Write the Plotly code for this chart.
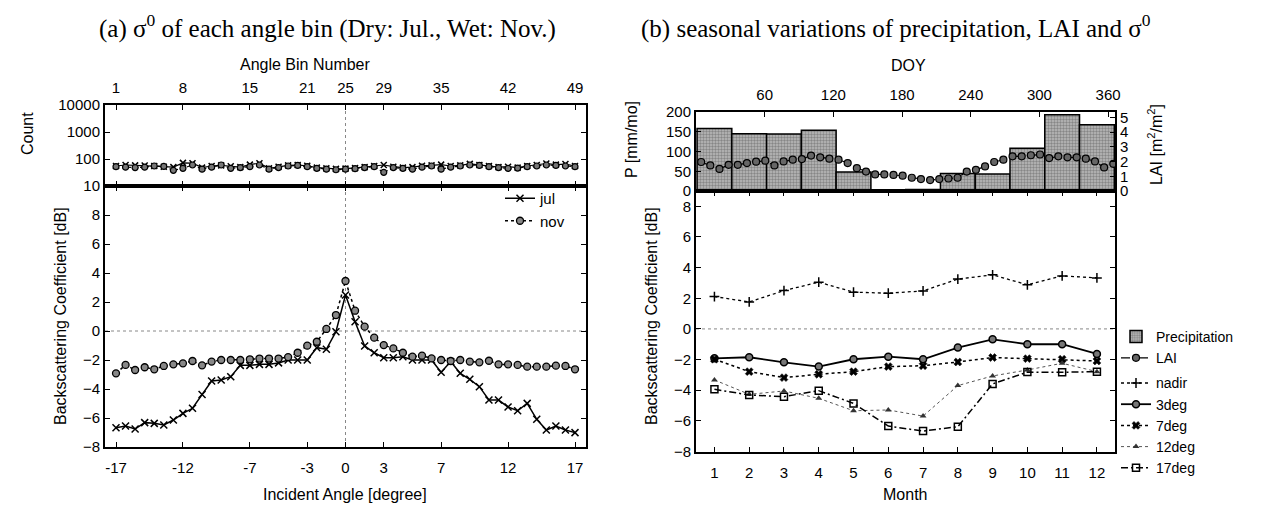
import plotly.graph_objects as go

# ---------------- data: panel (a) ----------------
bins = list(range(1, 50))
bin_tick_vals = [1, 8, 15, 21, 25, 29, 35, 42, 49]
bin_tick_text = ["1", "8", "15", "21", "25", "29", "35", "42", "49"]
angle_tick_text = ["-17", "-12", "-7", "-3", "0", "3", "7", "12", "17"]

jul_sigma = [-6.67, -6.55, -6.76, -6.32, -6.37, -6.48, -6.14, -5.68, -5.33, -4.38,
             -3.45, -3.38, -3.15, -2.37, -2.37, -2.30, -2.30, -2.20, -2.00, -2.00,
             -2.00, -1.15, -1.26, -0.05, 2.48, 0.64, -1.03, -1.50, -1.84, -1.84,
             -1.77, -2.00, -2.00, -2.00, -2.85, -2.11, -2.92, -3.33, -3.84, -4.76,
             -4.76, -5.24, -5.50, -4.99, -6.09, -6.83, -6.55, -6.83, -7.01]
nov_sigma = [-2.92, -2.34, -2.69, -2.50, -2.64, -2.41, -2.30, -2.23, -2.07, -2.37,
             -2.11, -2.00, -2.00, -2.00, -1.95, -1.90, -1.90, -1.90, -1.80, -1.50,
             -1.01, -0.74, 0.14, 1.10, 3.45, 1.40, 0.30, -0.46, -0.97, -1.20,
             -1.50, -1.77, -1.70, -1.89, -2.00, -2.07, -2.00, -2.11, -2.16, -2.05,
             -2.30, -2.30, -2.34, -2.46, -2.46, -2.46, -2.39, -2.41, -2.64]
jul_count = [55, 60, 58, 57, 55, 52, 50, 72, 70, 48, 55, 58, 54, 50, 62, 70, 45, 52,
             58, 60, 56, 48, 45, 43, 44, 46, 50, 55, 60, 52, 48, 50, 56, 58, 62, 55,
             58, 66, 60, 55, 50, 52, 48, 55, 60, 68, 62, 65, 55]
nov_count = [52, 50, 48, 50, 55, 53, 38, 45, 60, 42, 50, 60, 45, 48, 52, 60, 42, 48,
             55, 58, 52, 45, 42, 40, 42, 44, 48, 52, 32, 48, 45, 42, 50, 55, 42, 50,
             55, 60, 58, 52, 48, 45, 46, 52, 55, 60, 58, 55, 52]

# ---------------- data: panel (b) ----------------
months = list(range(1, 13))
precip = [158, 145, 144, 154, 48, 3, 4, 44, 43, 108, 193, 168]
lai_doy = [4.5, 12.5, 20.5, 28.5, 36.5, 44.5, 52.5, 60.5, 68.5, 76.5, 84.5, 92.5,
           100.5, 108.5, 116.5, 124.5, 132.5, 140.5, 148.5, 156.5, 164.5, 172.5,
           180.5, 188.5, 196.5, 204.5, 212.5, 220.5, 228.5, 236.5, 244.5, 252.5,
           260.5, 268.5, 276.5, 284.5, 292.5, 300.5, 308.5, 316.5, 324.5, 332.5,
           340.5, 348.5, 356.5, 364.5]
lai = [1.97, 1.74, 1.50, 1.78, 1.78, 1.90, 1.99, 2.06, 1.74, 2.01, 2.13, 2.17,
       2.41, 2.29, 2.20, 2.13, 1.90, 1.55, 1.32, 1.13, 1.13, 1.09, 1.04, 0.90,
       0.81, 0.74, 0.81, 0.85, 0.90, 1.32, 1.44, 1.67, 1.97, 2.13, 2.36, 2.36,
       2.43, 2.48, 2.24, 2.36, 2.29, 2.29, 2.20, 2.01, 1.60, 1.85]
doy_ticks = [60, 120, 180, 240, 300, 360]
nadir = [2.11, 1.76, 2.50, 3.05, 2.40, 2.33, 2.48, 3.25, 3.53, 2.88, 3.46, 3.33]
deg3 = [-1.92, -1.85, -2.18, -2.46, -1.98, -1.81, -1.98, -1.22, -0.68, -1.00, -1.00, -1.63]
deg7 = [-1.98, -2.79, -3.18, -2.96, -2.79, -2.46, -2.40, -2.16, -1.87, -1.94, -1.98, -2.09]
deg12 = [-3.33, -4.27, -4.05, -4.53, -5.34, -5.29, -5.69, -3.70, -3.07, -2.68, -2.24, -2.79]
deg17 = [-3.94, -4.31, -4.42, -4.03, -4.86, -6.34, -6.67, -6.38, -3.59, -2.82, -2.83, -2.79]

SANS = "Liberation Sans, Arial, sans-serif"
SERIF = "Liberation Serif, Times New Roman, serif"
W, H = 1280, 510


def px(x):
    return x / W


def py(y):
    return 1 - y / H


fig = go.Figure()

# ---- panel (a) counts ----
fig.add_trace(go.Scatter(x=bins, y=jul_count, xaxis="x", yaxis="y", mode="lines+markers",
                         line=dict(color="black", width=1.2),
                         marker=dict(symbol="x-thin", size=6, line=dict(color="black", width=1.5)),
                         showlegend=False))
fig.add_trace(go.Scatter(x=bins, y=nov_count, xaxis="x", yaxis="y", mode="lines+markers",
                         line=dict(color="black", width=1.2, dash="dot"),
                         marker=dict(symbol="circle", size=6, color="#777", line=dict(color="black", width=1.2)),
                         showlegend=False))

# ---- panel (a) sigma0 ----
fig.add_trace(go.Scatter(x=bins, y=jul_sigma, xaxis="x2", yaxis="y2", mode="lines+markers", name="jul",
                         line=dict(color="black", width=1.5),
                         marker=dict(symbol="x-thin", size=7, line=dict(color="black", width=1.5)),
                         legend="legend"))
fig.add_trace(go.Scatter(x=bins, y=nov_sigma, xaxis="x2", yaxis="y2", mode="lines+markers", name="nov",
                         line=dict(color="black", width=1.5, dash="dot"),
                         marker=dict(symbol="circle", size=7, color="#888", line=dict(color="black", width=1.3)),
                         legend="legend"))

# ---- panel (b) precipitation & LAI ----
fig.add_trace(go.Bar(x=months, y=precip, xaxis="x3", yaxis="y3", width=1, name="Precipitation",
                     marker=dict(color="#b0b0b0", line=dict(color="black", width=1.5),
                                 pattern=dict(shape=".", fgcolor="#505050", bgcolor="#bcbcbc", size=3, solidity=0.5)),
                     legend="legend2", legendgroup="a"))
fig.add_trace(go.Scatter(x=lai_doy, y=lai, xaxis="x4", yaxis="y4", mode="lines+markers", name="LAI",
                         line=dict(color="black", width=1.2, dash="dash"),
                         marker=dict(symbol="circle", size=7, color="#666", line=dict(color="black", width=1.2)),
                         legend="legend2", legendgroup="a"))

# ---- panel (b) sigma0 ----
series = [
    ("nadir", nadir, dict(color="black", width=1.3, dash="dot"), dict(symbol="cross-thin", size=7, line=dict(color="black", width=1.5))),
    ("3deg", deg3, dict(color="black", width=1.8), dict(symbol="circle", size=7, color="#777", line=dict(color="black", width=1.5))),
    ("7deg", deg7, dict(color="black", width=1.5, dash="3px,3px"), dict(symbol="x", size=7, color="black", line=dict(color="black", width=0.5))),
    ("12deg", deg12, dict(color="#555", width=1.0, dash="dot"), dict(symbol="triangle-up", size=6, color="#333")),
    ("17deg", deg17, dict(color="black", width=1.5, dash="7px,3px,2px,3px"), dict(symbol="square-open", size=7, color="black", line=dict(width=1.5))),
]
for name, vals, ln, mk in series:
    fig.add_trace(go.Scatter(x=months, y=vals, xaxis="x5", yaxis="y5", mode="lines+markers", name=name,
                             line=ln, marker=mk, legend="legend2", legendgroup="b"))

axis_common = dict(showline=True, linecolor="black", linewidth=2, ticks="inside", ticklen=5,
                   tickcolor="black", showgrid=False, zeroline=False,
                   tickfont=dict(family=SANS, size=15, color="black"))

ax_a = [px(105), px(586)]
ax_b = [px(696), px(1115)]

fig.update_layout(
    width=W, height=H, plot_bgcolor="white", paper_bgcolor="white",
    margin=dict(l=0, r=0, t=0, b=0, autoexpand=False),
    font=dict(family=SANS, size=14, color="black"),
    barmode="overlay",
    xaxis=dict(axis_common, domain=ax_a, anchor="y", side="top", range=[-0.15, 50.15],
               tickvals=bin_tick_vals, ticktext=bin_tick_text, mirror="ticks", ticklabelstandoff=4),
    yaxis=dict(axis_common, domain=[py(186), py(105)], anchor="x", type="log", range=[1, 4],
               tickvals=[10, 100, 1000, 10000], ticktext=["10", "100", "1000", "10000"], mirror="ticks"),
    xaxis2=dict(axis_common, domain=ax_a, anchor="y2", range=[-0.15, 50.15],
                tickvals=bin_tick_vals, ticktext=angle_tick_text, mirror="ticks", ticklabelstandoff=6),
    yaxis2=dict(axis_common, domain=[py(447), py(186)], anchor="x2", range=[-8, 10],
                tickvals=[-8, -6, -4, -2, 0, 2, 4, 6, 8], mirror="ticks"),
    # month axis of the precipitation bars (frame only)
    xaxis3=dict(domain=ax_b, anchor="y3", range=[0.47, 12.52], showline=True, mirror=True,
                linecolor="black", linewidth=2, showticklabels=False, ticks="", showgrid=False,
                zeroline=False),
    # DOY axis on top
    xaxis4=dict(axis_common, anchor="y3", overlaying="x3", side="top", range=[0, 366],
                tickvals=doy_ticks, ticklabelstandoff=4),
    yaxis3=dict(axis_common, domain=[py(191), py(112)], anchor="x3", range=[0, 200],
                tickvals=[0, 50, 100, 150, 200]),
    yaxis4=dict(axis_common, anchor="x3", overlaying="y3", side="right", range=[0, 5.37],
                tickvals=[0, 1, 2, 3, 4, 5]),
    xaxis5=dict(axis_common, domain=ax_b, anchor="y5", range=[0.47, 12.52],
                tickvals=months, mirror="ticks", ticklabelstandoff=6),
    yaxis5=dict(axis_common, domain=[py(451.5), py(191)], anchor="x5", range=[-8, 9],
                tickvals=[-8, -6, -4, -2, 0, 2, 4, 6, 8], mirror="ticks"),
    legend=dict(x=px(500), y=py(182), xanchor="left", yanchor="top", bgcolor="rgba(0,0,0,0)",
                font=dict(family=SANS, size=15), itemwidth=30, tracegroupgap=0),
    legend2=dict(x=px(1116), y=py(321), xanchor="left", yanchor="top", bgcolor="rgba(0,0,0,0)",
                 font=dict(family=SANS, size=14), traceorder="grouped", tracegroupgap=4, itemwidth=30),
)

# reference lines
fig.add_shape(type="line", xref="x", yref="y domain", x0=25, x1=25, y0=0, y1=1,
              line=dict(color="#888", width=1, dash="dot"), layer="below")
fig.add_shape(type="line", xref="x2", yref="y2 domain", x0=25, x1=25, y0=0, y1=1,
              line=dict(color="#888", width=1, dash="dot"), layer="below")
fig.add_shape(type="line", xref="x2 domain", yref="y2", x0=0, x1=1, y0=0, y1=0,
              line=dict(color="#888", width=1, dash="dot"), layer="below")
fig.add_shape(type="line", xref="x5 domain", yref="y5", x0=0, x1=1, y0=0, y1=0,
              line=dict(color="#888", width=1, dash="dot"), layer="below")

ann = [
    dict(text="(a) σ<sup>0</sup> of each angle bin (Dry: Jul., Wet: Nov.)", x=px(327), y=py(26),
         font=dict(family=SERIF, size=25)),
    dict(text="(b) seasonal variations of precipitation, LAI and σ<sup>0</sup>", x=px(896), y=py(26),
         font=dict(family=SERIF, size=25)),
    dict(text="Angle Bin Number", x=px(305), y=py(64)),
    dict(text="Count", x=px(28), y=py(134), textangle=-90),
    dict(text="Backscattering Coefficient [dB]", x=px(60), y=py(316), textangle=-90),
    dict(text="Incident Angle [degree]", x=px(345), y=py(494)),
    dict(text="DOY", x=px(908), y=py(65)),
    dict(text="P [mm/mo]", x=px(631), y=py(140), textangle=-90),
    dict(text="LAI [m<sup>2</sup>/m<sup>2</sup>]", x=px(1155), y=py(145), textangle=-90),
    dict(text="Backscattering Coefficient [dB]", x=px(651), y=py(316), textangle=-90),
    dict(text="Month", x=px(905), y=py(494)),
]
for a in ann:
    a.setdefault("font", dict(family=SANS, size=16))
    fig.add_annotation(xref="paper", yref="paper", showarrow=False, xanchor="center", yanchor="middle", **a)

fig.write_html("out.html")
